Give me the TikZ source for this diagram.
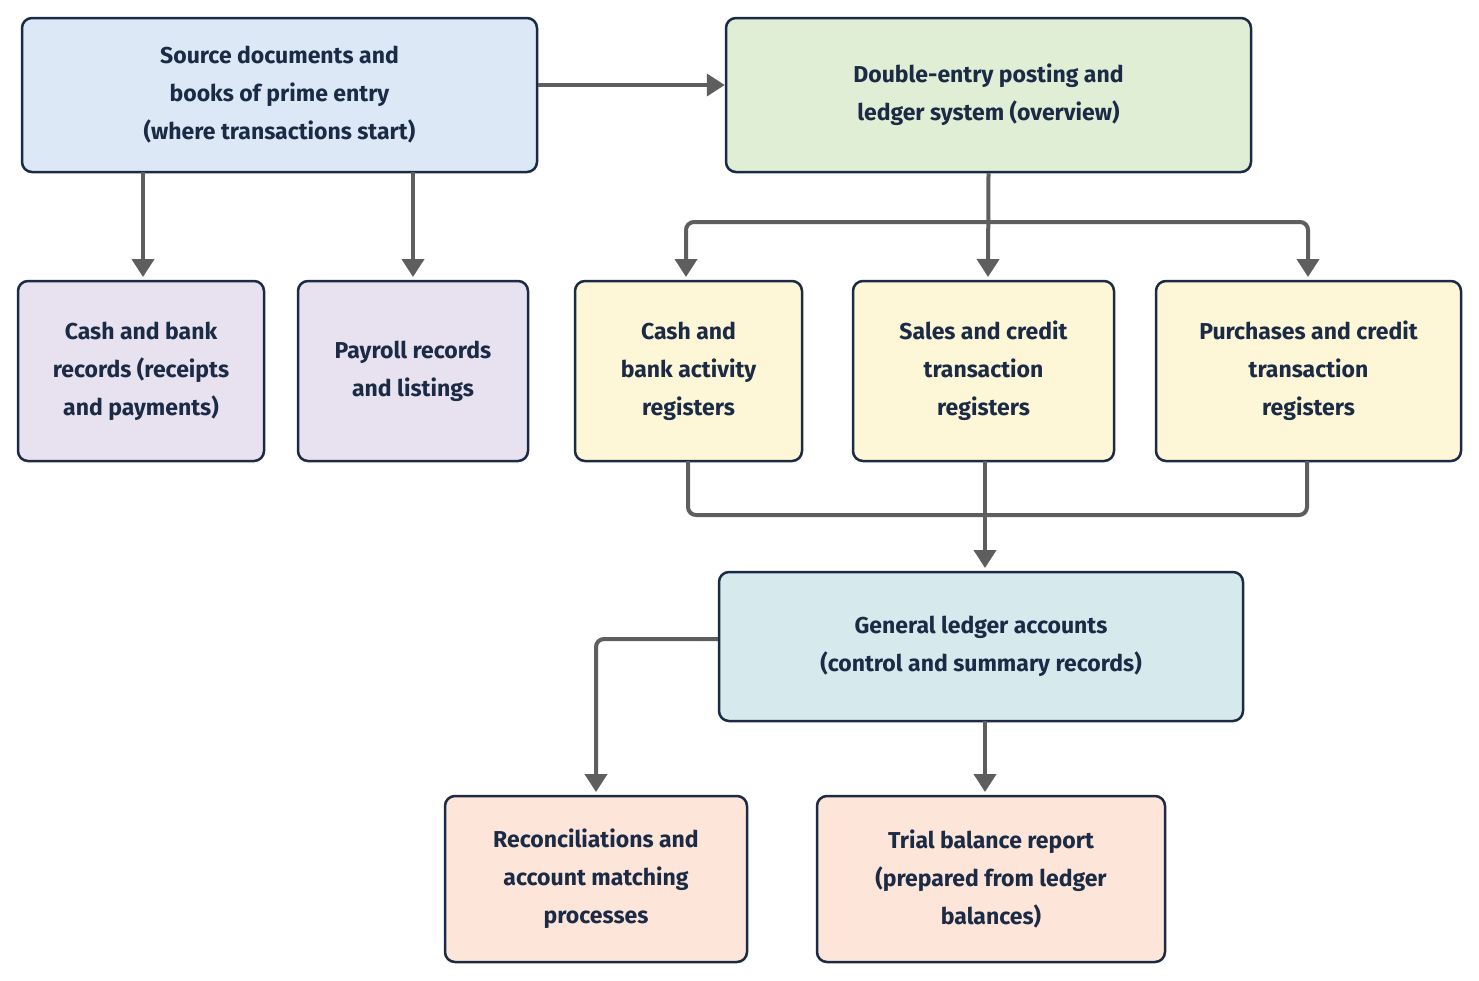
\documentclass[tikz,border=0pt]{standalone}
\usepackage{fontspec}
\setmainfont{Fira Sans}
\usetikzlibrary{arrows.meta}
\definecolor{ink}{HTML}{1B2A45}
\definecolor{arr}{HTML}{5E5E5E}
\definecolor{cA}{HTML}{DCE8F6}
\definecolor{cB}{HTML}{E0EED5}
\definecolor{cC}{HTML}{E8E2F0}
\definecolor{cD}{HTML}{FDF7D8}
\definecolor{cE}{HTML}{D6EAEE}
\definecolor{cF}{HTML}{FDE6D9}
\begin{document}
\begin{tikzpicture}[x=1pt,y=-1pt,
  box/.style={draw=ink,line width=2.5pt,rounded corners=10pt,align=center,text=ink,
    font=\fontsize{23}{38}\selectfont\bfseries,inner sep=0pt},
  con/.style={draw=arr,line width=4pt,rounded corners=8pt},
  ar/.style={con,-{Triangle[length=18pt,width=22pt]}}]
\useasboundingbox (0,0) rectangle (1479,980);
\node[box,fill=cA,minimum width=515pt,minimum height=154pt] (A) at (279.5,95) {Source documents and\\books of prime entry\\(where transactions start)};
\node[box,fill=cB,minimum width=525pt,minimum height=154pt] (B) at (988.5,95) {Double-entry posting and\\ledger system (overview)};
\node[box,fill=cC,minimum width=246pt,minimum height=180pt] (C1) at (141,371) {Cash and bank\\records (receipts\\and payments)};
\node[box,fill=cC,minimum width=230pt,minimum height=180pt] (C2) at (413,371) {Payroll records\\and listings};
\node[box,fill=cD,minimum width=227pt,minimum height=180pt] (D1) at (688.5,371) {Cash and\\bank activity\\registers};
\node[box,fill=cD,minimum width=261pt,minimum height=180pt] (D2) at (983.5,371) {Sales and credit\\transaction\\registers};
\node[box,fill=cD,minimum width=305pt,minimum height=180pt] (D3) at (1308.5,371) {Purchases and credit\\transaction\\registers};
\node[box,fill=cE,minimum width=524pt,minimum height=149pt] (E) at (981,646.5) {General ledger accounts\\(control and summary records)};
\node[box,fill=cF,minimum width=302pt,minimum height=166pt] (F1) at (596,879) {Reconciliations and\\account matching\\processes};
\node[box,fill=cF,minimum width=348pt,minimum height=166pt] (F2) at (991,879) {Trial balance report\\(prepared from ledger\\balances)};
\coordinate (j) at (988,222);
\coordinate (k) at (985,515);
\draw[ar] (A.east |- 0,85) -- (B.west |- 0,85);
\draw[ar] (143,172) -- (143,277);
\draw[ar] (413,172) -- (413,277);
\draw[ar] (B.south) -- (988,277);
\draw[ar] (j) -| (686,277);
\draw[ar] (j) -| (1308,277);
\draw[con] (688,461) |- (k) -| (1307,461);
\draw[con] (985,461) -- (k);
\draw[ar] (k) -- (985,568);
\draw[ar] (E.west |- 0,639) -| (596,792);
\draw[ar] (985,721) -- (985,792);
\end{tikzpicture}
\end{document}
